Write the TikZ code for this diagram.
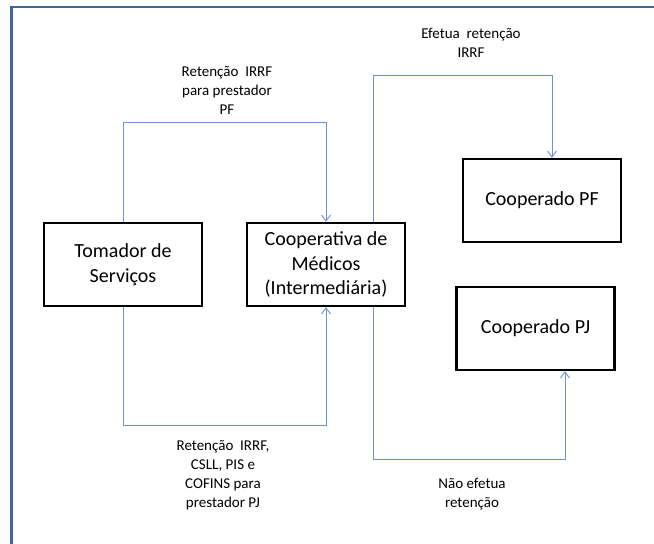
\documentclass[tikz,border=0pt]{standalone}
\usepackage{fontspec}
\setmainfont{Carlito}
\usepackage{tikz}
\usetikzlibrary{arrows,arrows.meta,shapes}
\usetikzlibrary{calc}
\definecolor{framecol}{RGB}{65,103,154}
\definecolor{flowcol}{RGB}{105,148,206}
\tikzstyle{entity}=[rectangle,draw,line width=2.4pt,minimum width=158pt,minimum height=83pt,align=center,font=\fontsize{20}{24.5}\selectfont,inner sep=0pt]
\tikzstyle{flow} = [draw,flowcol,line width=0.9pt,-{Straight Barb[length=6pt,width=9pt,line width=0.9pt]}]
\tikzstyle{border} = [draw,framecol,line width=2.2pt]
\tikzstyle{note} = [align=center,font=\fontsize{15}{19}\selectfont,inner sep=0pt]

\begin{document}
\begin{tikzpicture}[x=1pt,y=-1pt]

    \useasboundingbox (0,0) rectangle (654,544);
    \path[border] (11.5,550) |- (660,7);

    \foreach \pos/ \name/ \txt in {{(123,264.5)/tom/{Tomador de\\Serviços}},
        {(326,264.5)/coop/{Cooperativa de\\Médicos\\(Intermediária)}},
        {(542,200.5)/cpf/{Cooperado PF}}, {(535.5,328.5)/cpj/{Cooperado PJ}}}
        \node[entity] (\name) at \pos {\txt};

    % flows between the boxes
    \path[flow] (tom.north) -- ++(0,-99) -| (coop.north);
    \path[flow] ([xshift=47pt]coop.north) -- ++(0,-146) -| ([xshift=10pt]cpf.north);
    \path[flow] (tom.south) -- ++(0,118) -| (coop.south);
    \path[flow] ([xshift=47pt]coop.south) -- ++(0,152) -| ([xshift=29.5pt]cpj.south);

    % labels of the flows
    \foreach \pos/ \name/ \txt in {{(227,90)/lpf/{Retenção\ \ IRRF\\para prestador\\PF}},
        {(471,42.5)/lefetua/{Efetua\ \ retenção\\IRRF}},
        {(223,475.5)/lpj/{Retenção\ \ IRRF,\\CSLL, PIS e\\COFINS para\\prestador PJ}},
        {(472,494.5)/lnao/{Não efetua\\retenção}}}
        \node[note] (\name) at \pos {\txt};

\end{tikzpicture}
\end{document}
